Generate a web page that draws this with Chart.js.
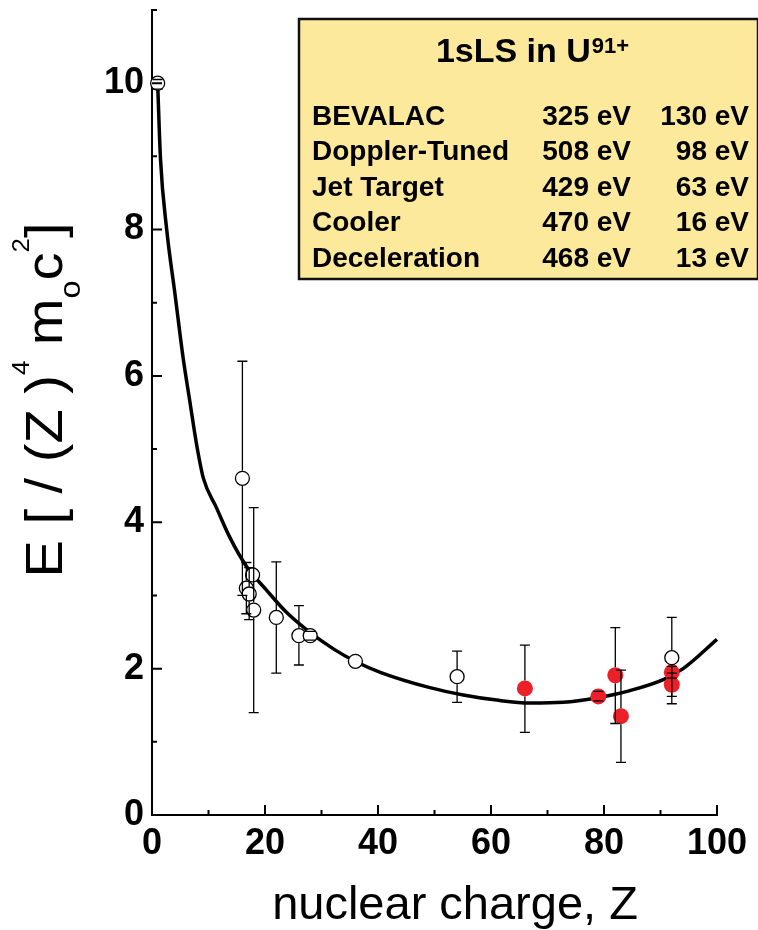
<!DOCTYPE html>
<html>
<head>
<meta charset="utf-8">
<title>1sLS vs Z</title>
<script src="https://cdn.jsdelivr.net/npm/chart.js@4.4.1/dist/chart.umd.min.js"></script>
<style>
  html, body { margin: 0; padding: 0; background: #ffffff; }
  #chartCanvas { display: block; }
</style>
</head>
<body>
<canvas id="chartCanvas" width="758" height="930"></canvas>
<script>
// fitted curve through the data
var fitZ = [1, 1.5, 2.6, 4.1, 5.5, 6.7, 7.9, 9.1, 11.4, 13.8, 16.7, 20.3, 23.8, 27.4, 32.1, 36.2, 40.4, 49.2, 55.1, 61, 66.9, 72.8, 78.7, 84.6, 90.5, 94, 100];
var fitE = [10.0, 8.97, 8.0, 7.1, 6.25, 5.65, 5.06, 4.6, 4.2, 3.79, 3.4, 3.07, 2.77, 2.53, 2.27, 2.09, 1.95, 1.74, 1.64, 1.57, 1.53, 1.54, 1.60, 1.70, 1.85, 2.0, 2.4];

// open symbols (null = no error bar)
var openZ  = [1, 16, 16.7, 17.2, 17.8, 18, 22, 26, 28, 36, 54, 92];
var openE  = [10.0, 4.6, 3.1, 3.02, 3.28, 2.8, 2.7, 2.45, 2.45, 2.1, 1.89, 2.15];
var openLo = [9.92, 3.0, 2.75, 2.67, null, 1.4, 1.94, 2.05, 2.39, null, 1.54, 1.52];
var openHi = [10.05, 6.2, 3.45, 3.38, null, 4.2, 3.46, 2.86, 2.51, null, 2.24, 2.7];

// red symbols
var redZ  = [66, 79, 82, 83, 92, 92];
var redE  = [1.73, 1.62, 1.91, 1.35, 1.95, 1.78];
var redLo = [1.13, 1.56, 1.25, 0.72, 1.87, 1.62];
var redHi = [2.32, 1.69, 2.56, 1.98, 2.03, 1.94];

// table in the yellow box
var boxTitle = '1sLS in U';
var boxTitleSup = '91+';
var boxNames = ['BEVALAC', 'Doppler-Tuned', 'Jet Target', 'Cooler', 'Deceleration'];
var boxCol1 = ['325 eV', '508 eV', '429 eV', '470 eV', '468 eV'];
var boxCol2 = ['130 eV', '98 eV', '63 eV', '16 eV', '13 eV'];

var FONT = "'Liberation Sans', Arial, Helvetica, sans-serif";
Chart.defaults.font.family = FONT;
Chart.defaults.color = '#000';

function toPoints(xs, ys) {
  return xs.map(function(x, i) { return { x: x, y: ys[i] }; });
}

// vertical error bars with caps, the stem is left out inside the symbol
var errorBars = {
  id: 'errorBars',
  afterDatasetsDraw: function(chart) {
    var ctx = chart.ctx, sx = chart.scales.x, sy = chart.scales.y;
    var sets = [
      [openZ, openE, openLo, openHi, 7.5],
      [redZ, redE, redLo, redHi, 8]
    ];
    ctx.save();
    ctx.strokeStyle = '#000';
    ctx.lineWidth = 1.3;
    sets.forEach(function(s) {
      s[0].forEach(function(z, i) {
        if (s[2][i] == null) return;
        var px = sx.getPixelForValue(z);
        var py = sy.getPixelForValue(s[1][i]);
        var top = sy.getPixelForValue(s[3][i]);
        var bot = sy.getPixelForValue(s[2][i]);
        var r = s[4];
        ctx.beginPath();
        if (top < py - r) { ctx.moveTo(px, top); ctx.lineTo(px, py - r); }
        if (bot > py + r) { ctx.moveTo(px, py + r); ctx.lineTo(px, bot); }
        ctx.moveTo(px - 5, top); ctx.lineTo(px + 5, top);
        ctx.moveTo(px - 5, bot); ctx.lineTo(px + 5, bot);
        ctx.stroke();
      });
    });
    ctx.restore();
  }
};

// inward major/minor ticks
var axisTicks = {
  id: 'axisTicks',
  afterDraw: function(chart) {
    var ctx = chart.ctx, sx = chart.scales.x, sy = chart.scales.y, a = chart.chartArea;
    ctx.save();
    ctx.strokeStyle = '#000';
    ctx.lineWidth = 2;
    ctx.beginPath();
    for (var v = 10; v <= 100; v += 10) {
      var px = sx.getPixelForValue(v);
      ctx.moveTo(px, a.bottom);
      ctx.lineTo(px, a.bottom - (v % 20 === 0 ? 10 : 5));
    }
    for (var w = 1; w <= 11; w++) {
      var py = sy.getPixelForValue(w);
      ctx.moveTo(a.left, py);
      ctx.lineTo(a.left + (w % 2 === 0 ? 10 : 5), py);
    }
    ctx.stroke();
    ctx.restore();
  }
};

// axis titles (y title has sub/superscripts)
var axisTitles = {
  id: 'axisTitles',
  afterDraw: function(chart) {
    var ctx = chart.ctx;
    ctx.save();
    ctx.fillStyle = '#000';
    ctx.textBaseline = 'alphabetic';
    ctx.font = '47px ' + FONT;
    ctx.textAlign = 'center';
    ctx.fillText('nuclear charge, Z', 455, 919);

    var parts = [
      { t: 'E [ / (Z )', size: 52, rise: 0 },
      { t: '4', size: 24, rise: 33 },
      { t: ' m', size: 52, rise: 0 },
      { t: 'o', size: 30, rise: -18 },
      { t: 'c', size: 52, rise: 0 },
      { t: '2', size: 24, rise: 33 },
      { t: ']', size: 52, rise: 0 }
    ];
    ctx.textAlign = 'left';
    var total = 0;
    parts.forEach(function(p) {
      ctx.font = p.size + 'px ' + FONT;
      p.w = ctx.measureText(p.t).width;
      total += p.w;
    });
    var stretch = 355 / total;
    ctx.translate(62, 400);
    ctx.rotate(-Math.PI / 2);
    ctx.scale(stretch, 1);
    var pos = -total / 2;
    parts.forEach(function(p) {
      ctx.font = p.size + 'px ' + FONT;
      ctx.fillText(p.t, pos, -p.rise);
      pos += p.w;
    });
    ctx.restore();
  }
};

// yellow box with the measured 1s Lamb shift values
var infoBox = {
  id: 'infoBox',
  afterDraw: function(chart) {
    var ctx = chart.ctx;
    var left = 299, top = 19, right = 758, bottom = 279;
    ctx.save();
    ctx.fillStyle = '#fce99c';
    ctx.fillRect(left, top, right - left, bottom - top);
    ctx.strokeStyle = '#111';
    ctx.lineWidth = 2.5;
    ctx.strokeRect(left, top, right - left, bottom - top);

    ctx.fillStyle = '#000';
    ctx.textBaseline = 'alphabetic';
    ctx.font = 'bold 34px ' + FONT;
    var w1 = ctx.measureText(boxTitle).width;
    ctx.font = 'bold 22px ' + FONT;
    var w2 = ctx.measureText(boxTitleSup).width;
    var x0 = 532 - (w1 + w2) / 2;
    ctx.font = 'bold 34px ' + FONT;
    ctx.textAlign = 'left';
    ctx.fillText(boxTitle, x0, 62);
    ctx.font = 'bold 22px ' + FONT;
    ctx.fillText(boxTitleSup, x0 + w1 + 1, 53);

    ctx.font = 'bold 28px ' + FONT;
    boxNames.forEach(function(name, i) {
      var y = 125 + i * 35.4;
      ctx.textAlign = 'left';
      ctx.fillText(name, 312, y);
      ctx.textAlign = 'right';
      ctx.fillText(boxCol1[i], 631, y);
      ctx.fillText(boxCol2[i], 749, y);
    });
    ctx.restore();
  }
};

var ctx = document.getElementById('chartCanvas').getContext('2d');
var chart = new Chart(ctx, {
  type: 'scatter',
  data: {
    datasets: [
      {
        label: 'open',
        data: toPoints(openZ, openE),
        pointStyle: 'circle',
        pointRadius: 7,
        pointHoverRadius: 7,
        pointBackgroundColor: '#ffffff',
        pointBorderColor: '#000000',
        pointBorderWidth: 1.3,
        showLine: false,
        clip: false
      },
      {
        label: 'red',
        data: toPoints(redZ, redE),
        pointStyle: 'circle',
        pointRadius: 8,
        pointHoverRadius: 8,
        pointBackgroundColor: '#ec2028',
        pointBorderColor: '#ec2028',
        pointBorderWidth: 0,
        showLine: false,
        clip: false
      },
      {
        label: 'fit',
        type: 'line',
        data: toPoints(fitZ, fitE),
        borderColor: '#000000',
        borderWidth: 3.5,
        pointRadius: 0,
        fill: false,
        cubicInterpolationMode: 'monotone',
        clip: false
      }
    ]
  },
  options: {
    responsive: false,
    animation: false,
    devicePixelRatio: 1,
    layout: { padding: { top: 10, right: 41, left: 0, bottom: 0 } },
    plugins: {
      legend: { display: false },
      tooltip: { enabled: false }
    },
    scales: {
      x: {
        type: 'linear',
        position: 'bottom',
        min: 0,
        max: 100,
        grid: { display: false, drawTicks: false },
        border: { display: true, color: '#000', width: 2 },
        ticks: {
          stepSize: 20,
          padding: 7,
          maxRotation: 0,
          color: '#000',
          font: { size: 36, weight: 'bold' }
        },
        afterFit: function(s) {
          s.height = 115;
          s.paddingLeft = 0;
          s.paddingRight = 0;
        }
      },
      y: {
        type: 'linear',
        min: 0,
        max: 11,
        grid: { display: false, drawTicks: false },
        border: { display: true, color: '#000', width: 2 },
        ticks: {
          stepSize: 2,
          padding: 8,
          color: '#000',
          font: { size: 36, weight: 'bold' }
        },
        afterBuildTicks: function(s) {
          s.ticks = s.ticks.filter(function(t) { return t.value % 2 === 0; });
        },
        afterFit: function(s) {
          s.width = 152;
          s.paddingTop = 0;
          s.paddingBottom = 0;
        }
      }
    }
  },
  plugins: [errorBars, axisTicks, axisTitles, infoBox]
});
</script>
</body>
</html>
